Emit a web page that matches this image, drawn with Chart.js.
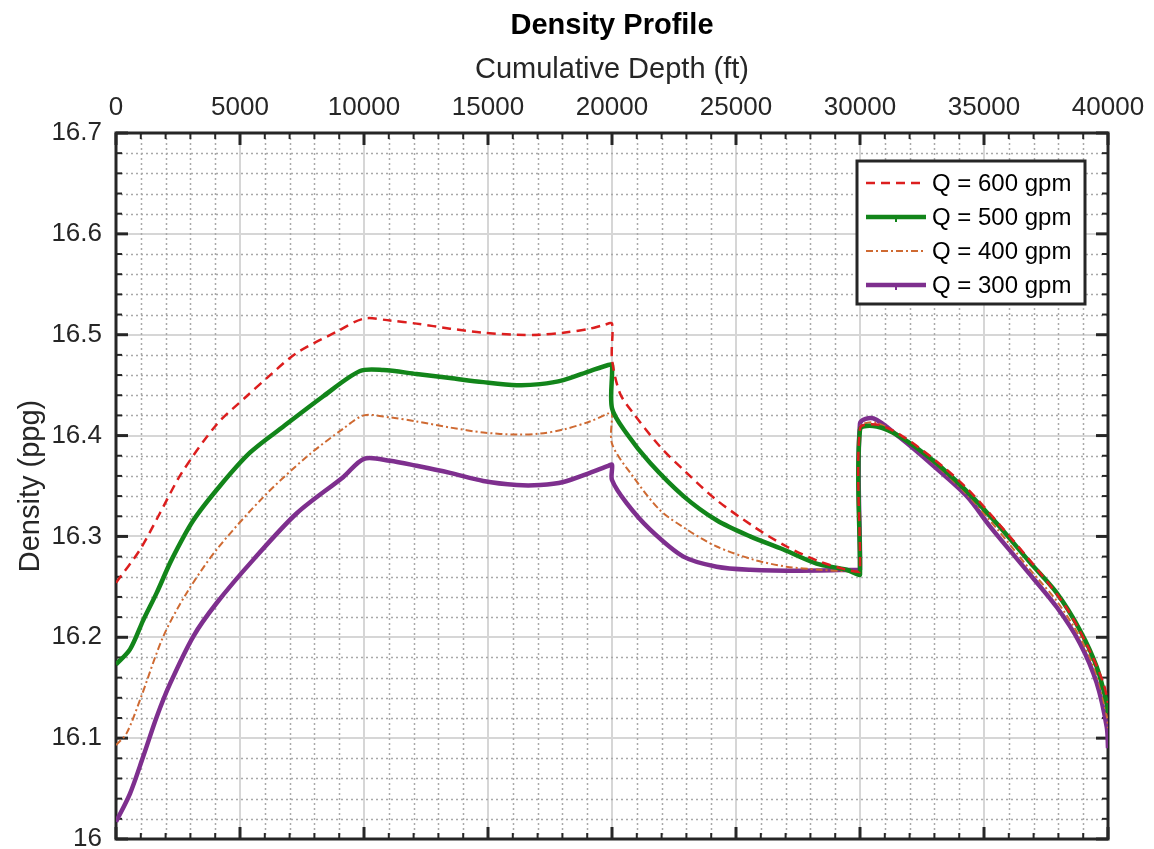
<!DOCTYPE html>
<html>
<head>
<meta charset="utf-8">
<title>Density Profile</title>
<script src="https://cdn.jsdelivr.net/npm/chart.js@4.4.0/dist/chart.umd.min.js"></script>
<style>
  html, body { margin: 0; padding: 0; background: #ffffff; }
  #wrap { width: 1154px; height: 849px; }
</style>
</head>
<body>
<div id="wrap"><canvas id="chart" width="1154" height="849"></canvas></div>
<script>
// Cumulative depth (ft) and mud density (ppg) for each flow rate
const depth600 = [0, 970, 1770, 2650, 4060, 5270, 6080, 7290, 8900, 10000, 11050, 12120, 13470, 14810, 16160, 17100, 18040, 19110, 19720, 20000, 20000, 20320, 20860, 21940, 23010, 24220, 25700, 27040, 28390, 29460, 29900, 30000, 30000, 30670, 31610, 32960, 34300, 35650, 37260, 38330, 39140, 39810, 40000];
const dens600  = [16.254, 16.287, 16.323, 16.363, 16.411, 16.439, 16.457, 16.482, 16.503, 16.516, 16.514, 16.511, 16.506, 16.502, 16.500, 16.500, 16.502, 16.506, 16.510, 16.511, 16.476, 16.442, 16.422, 16.389, 16.363, 16.336, 16.310, 16.290, 16.275, 16.267, 16.265, 16.265, 16.407, 16.411, 16.401, 16.377, 16.348, 16.311, 16.264, 16.229, 16.193, 16.155, 16.135];

const depth500 = [0, 565, 1100, 1640, 2245, 3120, 4190, 5400, 6750, 8360, 9840, 10780, 12120, 13470, 14810, 16160, 17100, 18040, 19110, 19850, 20000, 20000, 20590, 21530, 22880, 24220, 25570, 26910, 28250, 29460, 29930, 30000, 30000, 30670, 31610, 32960, 34300, 35510, 36860, 37930, 38870, 39540, 39950, 40000];
const dens500  = [16.173, 16.188, 16.217, 16.244, 16.277, 16.316, 16.350, 16.383, 16.409, 16.439, 16.464, 16.465, 16.461, 16.457, 16.453, 16.450, 16.451, 16.455, 16.464, 16.470, 16.470, 16.427, 16.402, 16.373, 16.340, 16.316, 16.300, 16.287, 16.273, 16.267, 16.262, 16.262, 16.406, 16.409, 16.399, 16.375, 16.345, 16.313, 16.274, 16.244, 16.207, 16.171, 16.135, 16.125];

const depth400 = [0, 430, 970, 1910, 2850, 4060, 5940, 7690, 9170, 10000, 11050, 12120, 13470, 14810, 16160, 17100, 18040, 19110, 19850, 20000, 20000, 20860, 21940, 23010, 24220, 25700, 27040, 28390, 29870, 30000, 30000, 30600, 31610, 32960, 34300, 35510, 36860, 37930, 38870, 39540, 39950, 40000];
const dens400  = [16.093, 16.105, 16.138, 16.201, 16.244, 16.287, 16.339, 16.379, 16.407, 16.420, 16.418, 16.414, 16.408, 16.403, 16.401, 16.402, 16.406, 16.414, 16.422, 16.424, 16.392, 16.359, 16.326, 16.307, 16.290, 16.277, 16.270, 16.267, 16.265, 16.265, 16.408, 16.413, 16.400, 16.373, 16.342, 16.308, 16.267, 16.236, 16.200, 16.163, 16.122, 16.110];

const depth300 = [0, 565, 1100, 1640, 2180, 3120, 4060, 5540, 7290, 9170, 10000, 11050, 12120, 13470, 14810, 16160, 17100, 18040, 19110, 19850, 20000, 20000, 20590, 21530, 22880, 24220, 25570, 27580, 29930, 30000, 30000, 30540, 31610, 32960, 34300, 35240, 36590, 37930, 38870, 39540, 39950, 40000];
const dens300  = [16.017, 16.045, 16.082, 16.121, 16.154, 16.201, 16.234, 16.277, 16.323, 16.359, 16.377, 16.375, 16.370, 16.363, 16.355, 16.351, 16.351, 16.354, 16.363, 16.370, 16.371, 16.356, 16.333, 16.307, 16.280, 16.270, 16.267, 16.266, 16.267, 16.267, 16.412, 16.417, 16.398, 16.370, 16.340, 16.310, 16.270, 16.230, 16.194, 16.155, 16.111, 16.090];

const seriesLabels = ['Q = 600 gpm', 'Q = 500 gpm', 'Q = 400 gpm', 'Q = 300 gpm'];
const xTickValues = [0, 5000, 10000, 15000, 20000, 25000, 30000, 35000, 40000];
const yTickValues = [16, 16.1, 16.2, 16.3, 16.4, 16.5, 16.6, 16.7];
const xMinorStep = 1000;
const yMinorStep = 0.02;
const chartTitle = 'Density Profile';

const FONT = "'Liberation Sans', Arial, Helvetica, sans-serif";
const AXIS_COLOR = '#262626';

function pairs(xs, ys) { return xs.map((x, i) => ({ x: x, y: ys[i] })); }

// Dotted minor grid, axes box with inward ticks on all four sides, legend and title
const boxPlugin = {
  id: 'boxPlugin',
  beforeDatasetsDraw(chart) {
    const { ctx, chartArea: a, scales } = chart;
    const xs = scales.x, ys = scales.y;
    ctx.save();
    // minor grid
    ctx.strokeStyle = '#a9a9a9';
    ctx.lineWidth = 1.5;
    ctx.setLineDash([2, 3]);
    for (let v = xs.min + xMinorStep; v < xs.max; v += xMinorStep) {
      if (Math.abs(v / 5000 - Math.round(v / 5000)) < 1e-6) continue;
      const px = Math.round(xs.getPixelForValue(v)) + 0.5;
      ctx.beginPath(); ctx.moveTo(px, a.top); ctx.lineTo(px, a.bottom); ctx.stroke();
    }
    const nY = Math.round((ys.max - ys.min) / yMinorStep);
    for (let k = 1; k < nY; k++) {
      if (k % 5 === 0) continue;
      const py = Math.round(ys.getPixelForValue(ys.min + k * yMinorStep)) + 0.5;
      ctx.beginPath(); ctx.moveTo(a.left, py); ctx.lineTo(a.right, py); ctx.stroke();
    }
    ctx.setLineDash([]);
    // tick marks
    ctx.strokeStyle = AXIS_COLOR;
    const tick = (x1, y1, x2, y2, w) => { ctx.lineWidth = w; ctx.beginPath(); ctx.moveTo(x1, y1); ctx.lineTo(x2, y2); ctx.stroke(); };
    for (let v = xs.min; v <= xs.max; v += xMinorStep) {
      const major = Math.abs(v / 5000 - Math.round(v / 5000)) < 1e-6;
      const len = major ? 12 : 6, w = major ? 3 : 2;
      const px = xs.getPixelForValue(v);
      tick(px, a.top, px, a.top + len, w);
      tick(px, a.bottom, px, a.bottom - len, w);
    }
    for (let k = 0; k <= nY; k++) {
      const major = k % 5 === 0;
      const len = major ? 12 : 6, w = major ? 3 : 2;
      const py = ys.getPixelForValue(ys.min + k * yMinorStep);
      tick(a.left, py, a.left + len, py, w);
      tick(a.right, py, a.right - len, py, w);
    }
    // frame
    ctx.lineWidth = 3;
    ctx.strokeRect(a.left, a.top, a.right - a.left, a.bottom - a.top);
    ctx.restore();
  },
  afterDatasetsDraw(chart) {
    const { ctx, chartArea: a } = chart;
    ctx.save();
    // title centred over the plot
    ctx.fillStyle = '#000000';
    ctx.font = 'bold 29px ' + FONT;
    ctx.textAlign = 'center';
    ctx.textBaseline = 'middle';
    ctx.fillText(chartTitle, (a.left + a.right) / 2, 25.5);

    // legend box in the upper right of the plot
    const right = a.right - 23, top = a.top + 28;
    const w = 228, h = 143;
    const left = right - w;
    ctx.fillStyle = '#ffffff';
    ctx.fillRect(left, top, w, h);
    ctx.lineWidth = 3;
    ctx.strokeStyle = AXIS_COLOR;
    ctx.strokeRect(left, top, w, h);
    ctx.font = '24px ' + FONT;
    ctx.textBaseline = 'middle';
    ctx.textAlign = 'left';
    chart.data.datasets.forEach((ds, i) => {
      const cy = top + 22 + i * 34;
      ctx.strokeStyle = ds.borderColor;
      ctx.lineWidth = ds.borderWidth;
      ctx.setLineDash(ds.borderDash || []);
      ctx.beginPath(); ctx.moveTo(left + 9, cy); ctx.lineTo(left + 69, cy); ctx.stroke();
      ctx.setLineDash([]);
      if (ds.legendMarker) {
        ctx.lineWidth = 2;
        ctx.beginPath(); ctx.moveTo(left + 39, cy - 1); ctx.lineTo(left + 39, cy + 5); ctx.stroke();
      }
      ctx.fillStyle = '#000000';
      ctx.fillText(ds.label, left + 75, cy + 1);
    });
    ctx.restore();
  }
};

new Chart(document.getElementById('chart'), {
  type: 'line',
  data: {
    datasets: [
      { label: seriesLabels[0], data: pairs(depth600, dens600), borderColor: '#dc1e1e', borderWidth: 2.5, borderDash: [9, 6] },
      { label: seriesLabels[1], data: pairs(depth500, dens500), borderColor: '#12851a', borderWidth: 4.5, legendMarker: true },
      { label: seriesLabels[2], data: pairs(depth400, dens400), borderColor: '#cf6a32', borderWidth: 2, borderDash: [7, 3, 2, 3] },
      { label: seriesLabels[3], data: pairs(depth300, dens300), borderColor: '#7e2f8e', borderWidth: 4.5, legendMarker: true }
    ]
  },
  options: {
    responsive: false,
    animation: false,
    devicePixelRatio: 1,
    layout: { padding: { left: 0, right: 46, top: 0, bottom: 10 } },
    elements: {
      point: { radius: 0, hoverRadius: 0 },
      line: { tension: 0.3, fill: false, borderCapStyle: 'butt', borderJoinStyle: 'round' }
    },
    plugins: {
      legend: { display: false },
      tooltip: { enabled: false },
      title: { display: false }
    },
    scales: {
      x: {
        type: 'linear',
        position: 'top',
        min: 0,
        max: 40000,
        afterBuildTicks: s => { s.ticks = xTickValues.map(v => ({ value: v })); },
        afterFit: s => { s.height = 133; s.paddingLeft = 0; s.paddingRight = 0; },
        ticks: {
          autoSkip: false,
          maxRotation: 0,
          padding: 10,
          color: AXIS_COLOR,
          font: { family: FONT, size: 26, lineHeight: 1.2 },
          callback: v => String(v)
        },
        grid: { color: '#d6d6d6', lineWidth: 2, drawTicks: false },
        border: { display: false },
        title: {
          display: true,
          text: 'Cumulative Depth (ft)',
          color: AXIS_COLOR,
          font: { family: FONT, size: 29, lineHeight: 1.2 },
          padding: { top: 53, bottom: 0 }
        }
      },
      y: {
        type: 'linear',
        position: 'left',
        min: 16,
        max: 16.7,
        afterBuildTicks: s => { s.ticks = yTickValues.map(v => ({ value: v })); },
        afterFit: s => { s.width = 116; s.paddingTop = 0; s.paddingBottom = 0; },
        ticks: {
          padding: 14,
          color: AXIS_COLOR,
          font: { family: FONT, size: 26, lineHeight: 1.2 },
          callback: v => String(Number(v.toFixed(1)))
        },
        grid: { color: '#d6d6d6', lineWidth: 2, drawTicks: false },
        border: { display: false },
        title: {
          display: true,
          text: 'Density (ppg)',
          color: AXIS_COLOR,
          font: { family: FONT, size: 29, lineHeight: 1.2 },
          padding: { top: 14, bottom: 0 }
        }
      }
    }
  },
  plugins: [boxPlugin]
});
</script>
</body>
</html>
